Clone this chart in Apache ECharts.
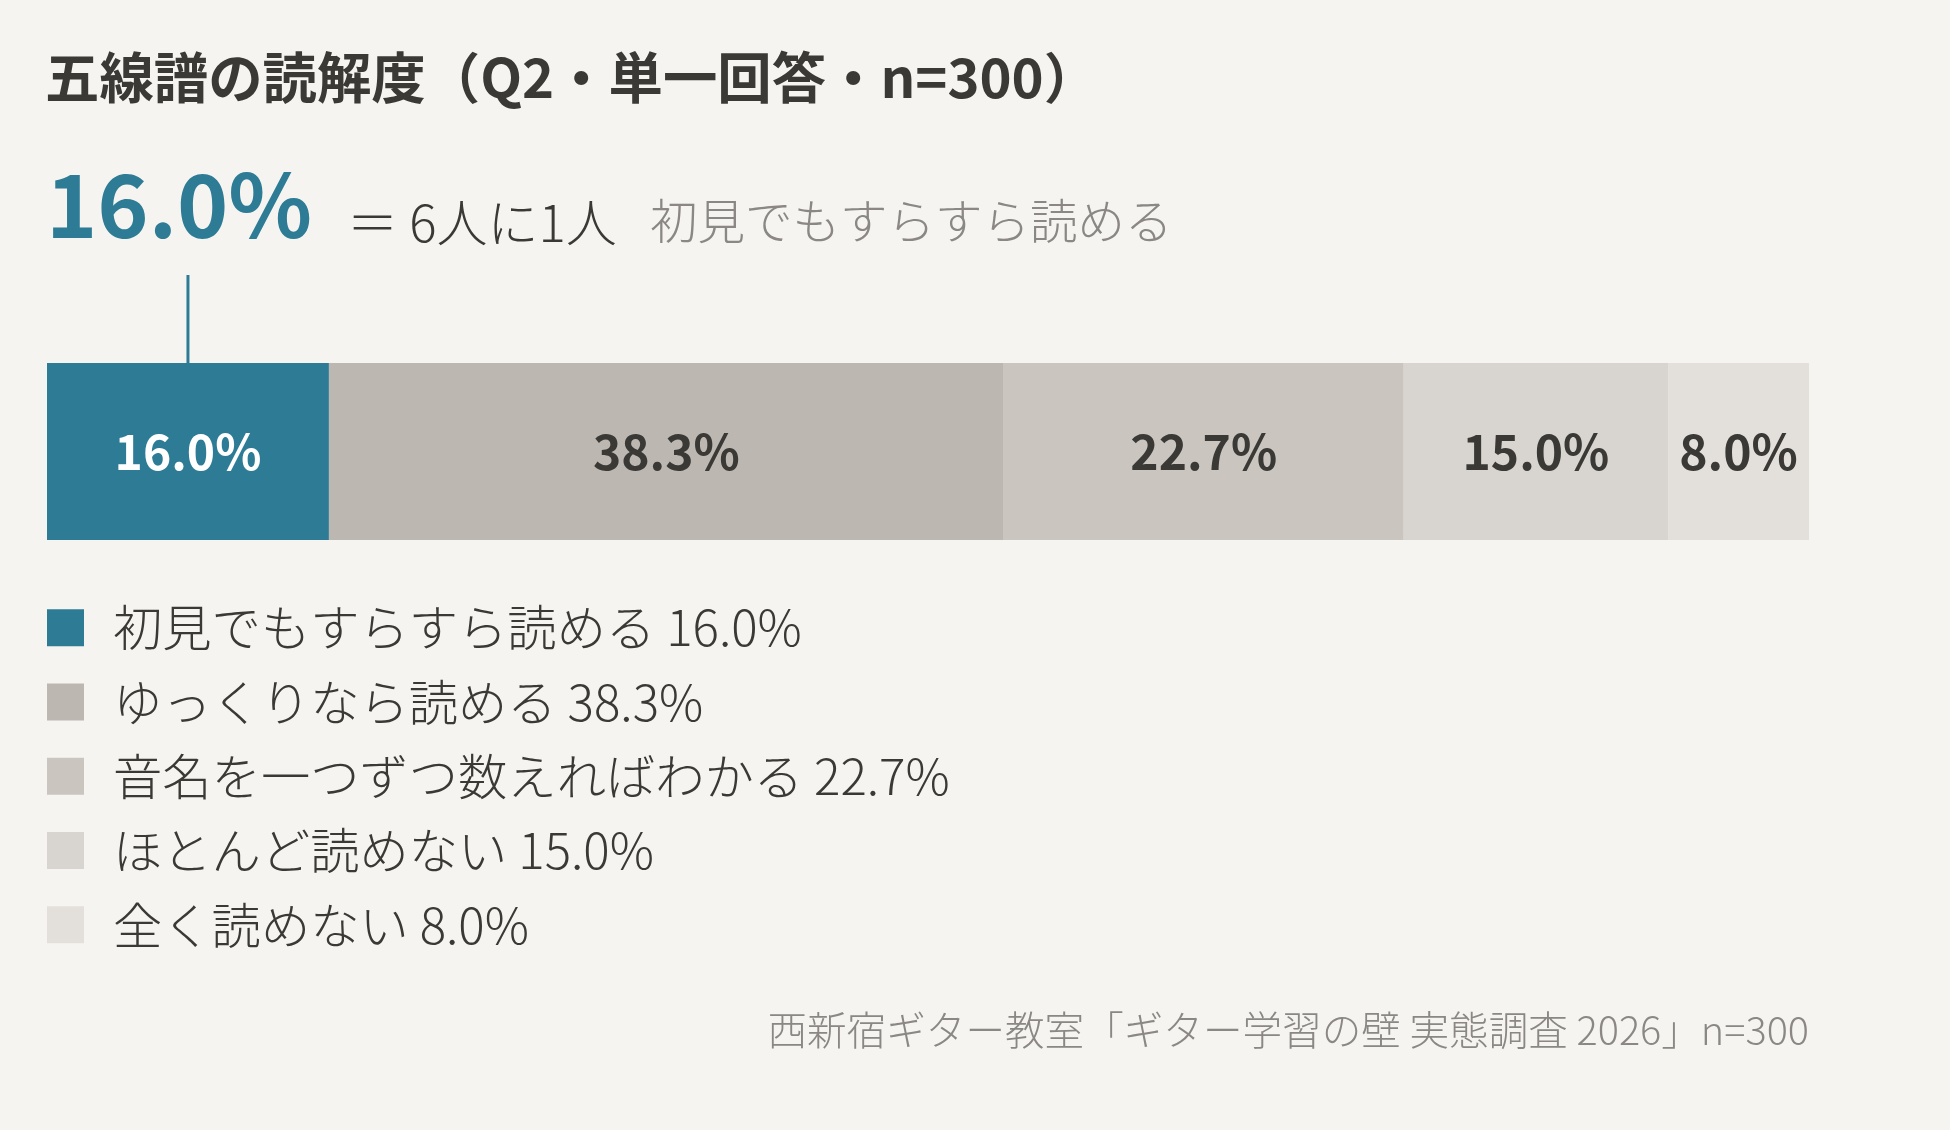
<!DOCTYPE html>
<html>
<head>
<meta charset="utf-8">
<script src="https://cdn.jsdelivr.net/npm/echarts@6/dist/echarts.min.js"></script>
<style>
html,body{margin:0;padding:0;background:#f5f4f0;}
#c{width:1950px;height:1130px;}
</style>
</head>
<body>
<div id="c"></div>
<script>
const titleText = '五線譜の読解度（Q2・単一回答・n=300）';
const headlineValue = '16.0%';
const headlineEq = '＝ 6人に1人';
const headlineDesc = '初見でもすらすら読める';
const footerText = '西新宿ギター教室「ギター学習の壁 実態調査 2026」n=300';

const categories = ['初見でもすらすら読める', 'ゆっくりなら読める', '音名を一つずつ数えればわかる', 'ほとんど読めない', '全く読めない'];
const values = [16.0, 38.3, 22.7, 15.0, 8.0];
const colors = ['#2d7b95', '#bcb7b1', '#cac5bf', '#d8d4cf', '#e3e0db'];
const labelColors = ['#ffffff', '#3a3936', '#3a3936', '#3a3936', '#3a3936'];

const FONT = '"Noto Sans CJK JP", "Noto Sans", sans-serif';
const chart = echarts.init(document.getElementById('c'), null, {renderer: 'canvas'});

const series = categories.map((name, i) => ({
  name: name,
  type: 'bar',
  stack: 'total',
  barWidth: 177,
  data: [values[i]],
  itemStyle: {color: colors[i]},
  emphasis: {disabled: true},
  label: {
    show: true,
    position: 'inside',
    formatter: p => p.value.toFixed(1) + '%',
    fontFamily: FONT,
    fontSize: 48,
    fontWeight: 'bold',
    color: labelColors[i]
  }
}));

chart.setOption({
  backgroundColor: '#f5f4f0',
  animation: false,
  textStyle: {fontFamily: FONT},
  grid: {left: 47, right: 141, top: 363, height: 177},
  xAxis: {type: 'value', min: 0, max: 100, show: false},
  yAxis: {type: 'category', data: ['Q2'], show: false},
  legend: {
    orient: 'vertical',
    left: 47,
    top: 603,
    padding: 0,
    itemWidth: 37,
    itemHeight: 37,
    itemGap: 25,
    icon: 'rect',
    selectedMode: false,
    data: categories,
    formatter: name => name + ' ' + values[categories.indexOf(name)].toFixed(1) + '%',
    textStyle: {fontFamily: FONT, fontSize: 49.3, fontWeight: 300, color: '#3a3936', padding: [0, 0, 0, 24]}
  },
  series: series
});

const p = chart.convertToPixel({gridIndex: 0}, [values[0] / 2, 0]);
const barTop = chart.convertToPixel({gridIndex: 0}, [0, 0])[1] - 177 / 2;

chart.setOption({
  graphic: [
    {type: 'text', left: 45, top: 50, style: {text: titleText, font: 'bold 54.4px ' + FONT, fill: '#3a3936'}},
    {type: 'text', x: 46, y: 205, style: {text: headlineValue, font: 'bold 87px ' + FONT, fill: '#2d7b95', verticalAlign: 'middle'}},
    {type: 'text', x: 347, y: 223, style: {text: headlineEq, font: '300 51px ' + FONT, fill: '#3a3936', verticalAlign: 'middle'}},
    {type: 'text', x: 650, y: 221, style: {text: headlineDesc, font: '300 47.5px ' + FONT, fill: '#8a8784', verticalAlign: 'middle'}},
    {type: 'line', shape: {x1: p[0], y1: 275, x2: p[0], y2: barTop}, style: {stroke: '#2d7b95', lineWidth: 3}},
    {type: 'text', x: 1809, y: 1030, style: {text: footerText, font: '300 39.6px ' + FONT, fill: '#8a8784', align: 'right', verticalAlign: 'middle'}}
  ]
});
</script>
</body>
</html>
